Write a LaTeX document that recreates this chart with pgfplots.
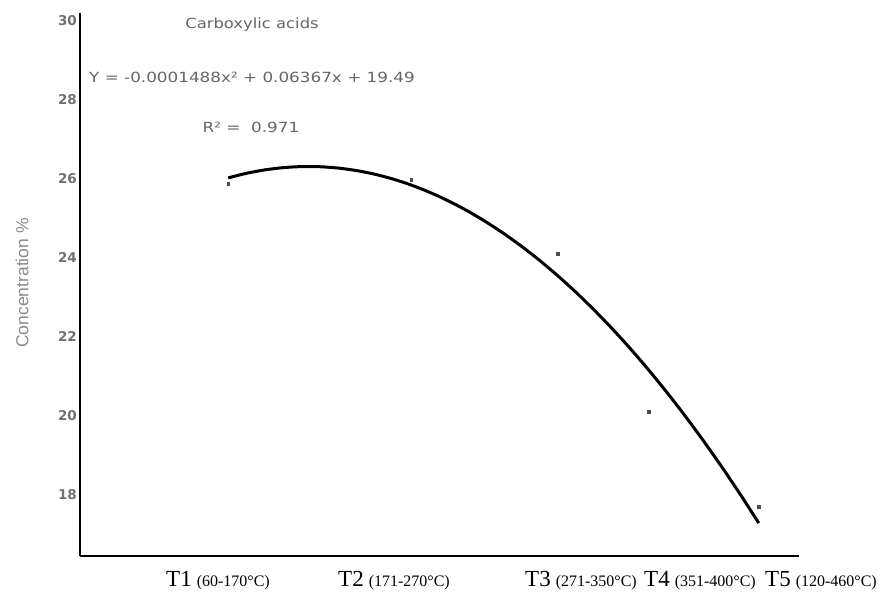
\documentclass[border=0pt]{standalone}
\usepackage{pgfplots}
\pgfplotsset{compat=1.18}
\usepackage{fontspec}
\setmainfont{Liberation Serif}
\newfontfamily\dv{DejaVu Sans}
\newfontfamily\ls{Liberation Sans}
\definecolor{txtgray}{HTML}{666666}
\definecolor{tickgray}{HTML}{707070}
\definecolor{labgray}{HTML}{8A8A8A}
\begin{document}
\begin{tikzpicture}[x=1pt,y=1pt]
\useasboundingbox (0,0) rectangle (880,596);
\begin{axis}[
  at={(80pt,40pt)}, anchor=south west,
  scale only axis, width=719pt, height=543pt,
  xmin=89, xmax=482, ymin=16.46, ymax=30.18,
  axis x line=bottom, axis y line=left,
  axis line style={-, line width=2.4pt, black},
  xtick=\empty,
  ytick={18,20,22,24,26,28,30},
  major tick length=0pt,
  /pgf/number format/assume math mode=true,
  yticklabel={\dv\bfseries\fontsize{13.5}{15}\selectfont\pgfmathprintnumber{\tick}},
  yticklabel style={text=tickgray, inner sep=3pt},
  clip=false,
]
\addplot[black, line width=3pt, smooth] coordinates {
(170,26.0136) (180,26.1295) (190,26.2156) (200,26.272) (210,26.2986)
(220,26.2955) (230,26.2626) (240,26.1999) (250,26.1075) (260,25.9853)
(270,25.8334) (280,25.6517) (290,25.4402) (300,25.199) (310,24.928)
(320,24.6273) (330,24.2968) (340,23.9365) (350,23.5465) (360,23.1267)
(370,22.6772) (380,22.1979) (390,21.6888) (400,21.15) (410,20.5814)
(420,19.9831) (430,19.355) (440,18.6971) (450,18.0095) (460,17.2921)
};
\addplot[only marks, mark=square*, mark size=1.4pt, color=black!70] coordinates {
(170,25.87) (270,25.97) (350,24.1) (400,20.1) (460,17.7)
};
\end{axis}
% texts
\node[anchor=center, text=txtgray] at (252,571) {\scalebox{1.17}[1]{\dv\fontsize{14}{16}\selectfont Carboxylic acids}};
\node[anchor=center, text=txtgray] at (252,519) {\scalebox{1.2}[1]{\dv\fontsize{14}{16}\selectfont Y = -0.0001488x² + 0.06367x + 19.49}};
\node[anchor=center, text=txtgray] at (251,469) {\scalebox{1.2}[1]{\dv\fontsize{14}{16}\selectfont R² = \ 0.971}};
\node[anchor=center, rotate=90, text=labgray] at (22,313) {\ls\fontsize{17.5}{19}\selectfont Concentration \%};
% x labels
\node[anchor=base west, inner sep=0pt] at (166,9) {{\fontsize{23}{25}\selectfont T1}\hspace{5pt}{\fontsize{16}{18}\selectfont (60-170°C)}};
\node[anchor=base west, inner sep=0pt] at (338,9) {{\fontsize{23}{25}\selectfont T2}\hspace{5pt}{\fontsize{16}{18}\selectfont (171-270°C)}};
\node[anchor=base west, inner sep=0pt] at (525,9) {{\fontsize{23}{25}\selectfont T3}\hspace{5pt}{\fontsize{16}{18}\selectfont (271-350°C)}};
\node[anchor=base west, inner sep=0pt] at (644,9) {{\fontsize{23}{25}\selectfont T4}\hspace{5pt}{\fontsize{16}{18}\selectfont (351-400°C)}};
\node[anchor=base west, inner sep=0pt] at (765,9) {{\fontsize{23}{25}\selectfont T5}\hspace{5pt}{\fontsize{16}{18}\selectfont (120-460°C)}};
\end{tikzpicture}
\end{document}
